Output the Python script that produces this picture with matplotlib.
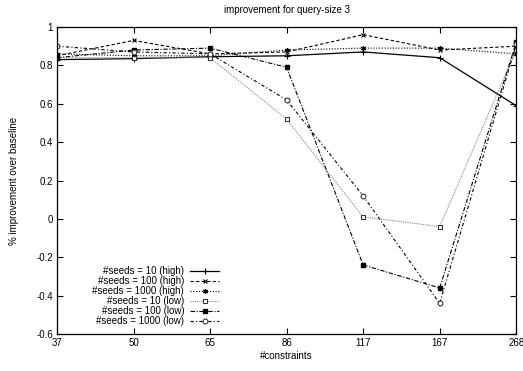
import matplotlib
matplotlib.use("Agg")
import matplotlib.pyplot as plt
import numpy as np

constraints = ["37", "50", "65", "86", "117", "167", "268"]

high_10 = [0.83, 0.835, 0.845, 0.85, 0.87, 0.84, 0.59]
high_100 = [0.85, 0.93, 0.86, 0.87, 0.96, 0.88, 0.90]
high_1000 = [0.86, 0.85, 0.85, 0.88, 0.89, 0.89, 0.86]
low_10 = [0.84, 0.84, 0.84, 0.52, 0.01, -0.04, 0.88]
low_100 = [0.84, 0.88, 0.89, 0.79, -0.24, -0.36, 0.92]
low_1000 = [0.90, 0.87, 0.86, 0.62, 0.12, -0.44, 0.91]

plt.rcParams["font.family"] = ["Liberation Sans", "DejaVu Sans"]
plt.rcParams["font.size"] = 7

fig = plt.figure(figsize=(5.23, 3.71), dpi=100)
ax = fig.add_axes([0.109, 0.0997, 0.878, 0.8275])

x = np.arange(len(constraints))
ms = 3.5
ax.plot(x, high_10, color="black", lw=0.9, ls="-", marker="+", ms=ms + 0.5, mew=0.8,
        label="#seeds = 10 (high)")
ax.plot(x, high_100, color="black", lw=0.8, ls=(0, (3, 2)), marker="x", ms=ms - 0.5, mew=0.8,
        label="#seeds = 100 (high)")
ax.plot(x, high_1000, color="black", lw=0.8, ls=(0, (1, 1.5)), marker=(6, 2, 0), ms=ms, mew=0.9,
        label="#seeds = 1000 (high)")
ax.plot(x, low_10, color="#888888", lw=0.8, ls=(0, (1, 1)), marker="s", ms=ms, mew=0.8,
        mfc="white", mec="#333333", label="#seeds = 10 (low)")
ax.plot(x, low_100, color="black", lw=0.8, ls=(0, (4, 1.5, 1, 1.5)), marker="s", ms=ms,
        mfc="black", mec="black", label="#seeds = 100 (low)")
ax.plot(x, low_1000, color="black", lw=0.8, ls=(0, (3, 2, 1, 2)), marker="o", ms=ms, mew=0.8,
        mfc="white", mec="#333333", label="#seeds = 1000 (low)")

ax.set_xlim(0, len(constraints) - 1)
ax.set_ylim(-0.6, 1.0)
ax.set_xticks(x)
ax.set_xticklabels(constraints)
ax.set_yticks(np.arange(-0.6, 1.01, 0.2))
ax.set_yticklabels(["-0.6", "-0.4", "-0.2", "0", "0.2", "0.4", "0.6", "0.8", "1"])
ax.tick_params(direction="in", top=True, right=True, length=4, width=0.8, pad=3)
for sp in ax.spines.values():
    sp.set_linewidth(0.9)

ax.set_title("improvement for query-size 3", fontsize=7, pad=10)
ax.set_xlabel("#constraints", labelpad=2)
ax.set_ylabel("% improvement over baseline", labelpad=12)

ax.legend(loc="lower right", bbox_to_anchor=(0.37, 0.0), frameon=False, markerfirst=False,
          handlelength=3.0, handletextpad=0.6, labelspacing=0.0, fontsize=7,
          borderaxespad=0.4)

fig.savefig("out.png", dpi=100)
